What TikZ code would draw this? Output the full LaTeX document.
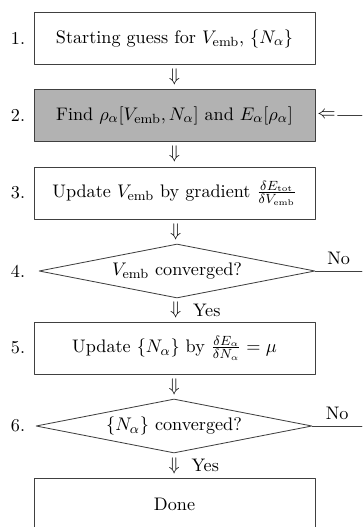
\documentclass[tikz,border=0pt]{standalone}
\usetikzlibrary{shapes.geometric}
\begin{document}
\begin{tikzpicture}[x=0.6pt,y=-0.6pt,line cap=round,line join=round,font=\fontsize{10.9}{13}\selectfont,
		stepbox/.style={draw=black!75,line width=0.5pt,minimum width=168.6pt,minimum height=31.2pt,inner sep=0pt},
		test/.style={draw=black!75,line width=0.5pt,diamond,aspect=5,minimum width=165.6pt,minimum height=32.4pt,inner sep=0pt},
		num/.style={inner sep=0pt},
		link/.style={draw=black!75,line width=0.5pt}]
	\useasboundingbox (0,0) rectangle (362,527);
	% boxes and tests
	\node[stepbox] (s1) at (174.5,38.5) {Starting guess for $V_{\rm emb}$, $\{N_\alpha\}$};
	\node[stepbox,fill=gray!60] (s2) at (174.5,115.5) {Find $\rho_\alpha[V_{\rm emb},N_\alpha]$ and $E_\alpha[\rho_\alpha]$};
	\node[stepbox] (s3) at (174.5,193) {Update $V_{\rm emb}$ by gradient $\frac{\delta E_{\rm tot}}{\delta V_{\rm emb}}$};
	\node[test] (s4) at (177,271) {$V_{\rm emb}$ converged?};
	\node[stepbox] (s5) at (174.5,348) {Update $\{N_\alpha\}$ by $\frac{\delta E_\alpha}{\delta N_\alpha}=\mu$};
	\node[test] (s6) at (174,426) {$\{N_\alpha\}$ converged?};
	\node[stepbox] (s7) at (174.5,504) {Done};
	% numbers
	\foreach \i in {1,...,6} {\node[num] (n\i) at (18,0 |- s\i) {\i.};}
	% down arrows
	\foreach \i/\j in {1/2,2/3,3/4,5/6} {\path (s\i.south) -- node (d\i) {$\Downarrow$} (s\j.north);}
	\foreach \i/\j in {4/5,6/7} {\path (s\i.south) -- node (d\i) {$\Downarrow$} (s\j.north);
		\node[anchor=west] (y\i) at (d\i.east) {Yes};}
	% loops back (cut at the right edge)
	\coordinate (e2) at (362,115.5);
	\coordinate (e4) at (362,0 |- s4);
	\coordinate (e6) at (362,0 |- s6);
	\node[inner sep=1pt,anchor=west] (b2) at (s2.east) {$\Leftarrow$};
	\draw[link] (b2.east) -- (e2);
	\draw[link] (s4.east) -- node[above] (no4) {No} (e4);
	\draw[link] (s6.east) -- node[above] (no6) {No} (e6);
\end{tikzpicture}
\end{document}
